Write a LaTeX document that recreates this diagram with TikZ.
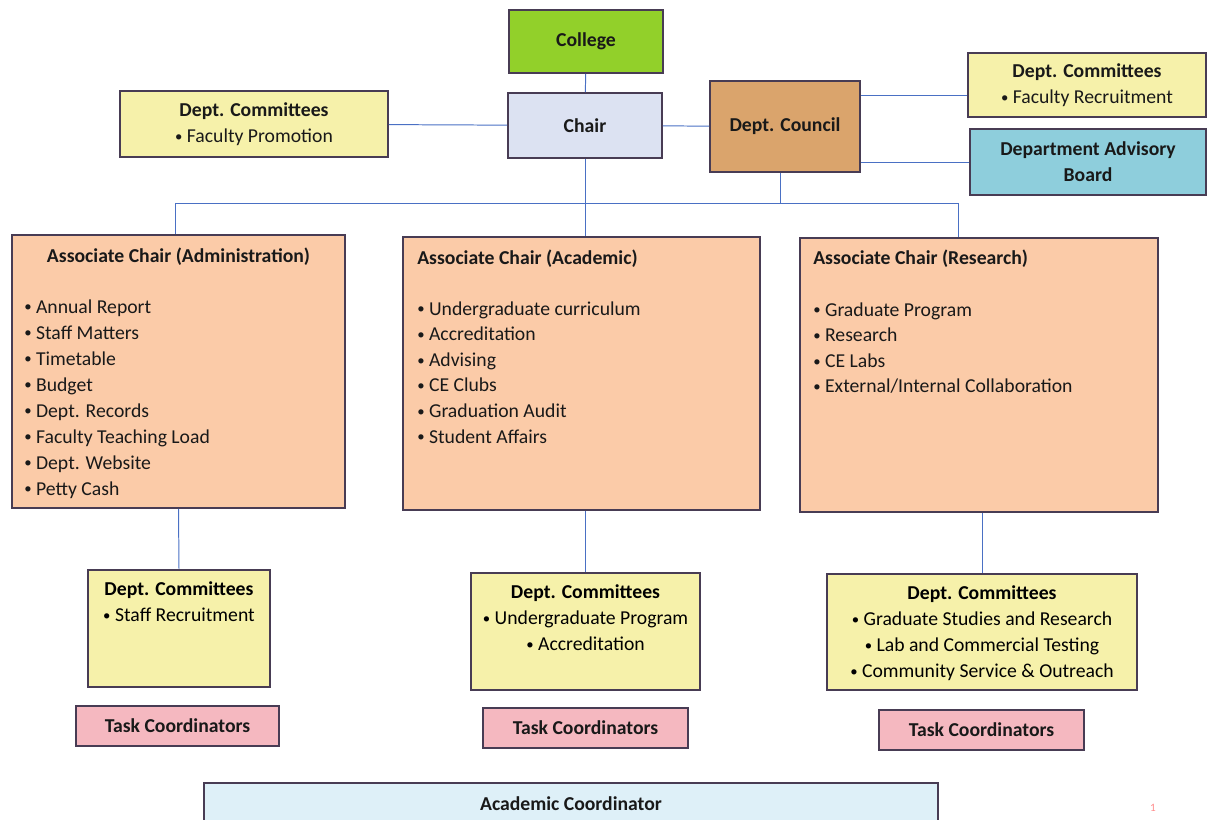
\documentclass[tikz,border=0pt]{standalone}
\usepackage{fontspec}
\setmainfont{Carlito}
\usetikzlibrary{positioning}

\newlength\pxu
\setlength\pxu{0.025cm}
\newcommand\orgfont{\fontsize{14}{18.5}\selectfont}
\newcommand\bul{\raisebox{0.12ex}{\scalebox{0.75}{•}}}

\definecolor{boxline}{RGB}{72,60,84}
\definecolor{linkblue}{RGB}{74,112,196}
\definecolor{collegegreen}{RGB}{146,208,42}
\definecolor{chairblue}{RGB}{220,226,242}
\definecolor{councilbrown}{RGB}{218,164,108}
\definecolor{committeeyellow}{RGB}{246,241,170}
\definecolor{boardblue}{RGB}{142,206,220}
\definecolor{assocpeach}{RGB}{251,203,168}
\definecolor{taskpink}{RGB}{245,184,192}
\definecolor{acadblue}{RGB}{222,240,248}

\tikzset{
  box/.style={draw=boxline, line width=1.2pt, inner sep=0pt, align=center,
    text=black!90, font=\orgfont\bfseries},
  wh/.style 2 args={minimum width=#1\pxu, minimum height=#2\pxu},
  link/.style={draw=linkblue, line width=0.7pt},
  item/.style={inner sep=0pt, anchor=base west, text=black!90, font=\orgfont},
  title/.style={inner sep=0pt, anchor=base west, text=black!90, font=\orgfont\bfseries},
}

\begin{document}
\begin{tikzpicture}[x=\pxu, y=-\pxu]
\useasboundingbox (0,0) rectangle (1208,820);

% top level
\node[box, wh={154}{63}, fill=collegegreen] (college) at (586,41.5) {College};
\node[box, wh={154}{65}, fill=chairblue] (chair) at (585,125.5) {Chair};
\node[box, wh={268}{66}, fill=committeeyellow] (promo) at (254,124)
  {Dept. Committees\\ \textmd{\bul{} Faculty Promotion}};
\node[box, wh={150}{91}, fill=councilbrown] (council) at (785,126.5) {Dept. Council};
\node[box, wh={238}{64}, fill=committeeyellow] (recruit) at (1087,85)
  {Dept. Committees\\ \textmd{\bul{} Faculty Recruitment}};
\node[box, wh={236}{66}, fill=boardblue] (board) at (1088,162)
  {Department Advisory\\ Board};

% associate chairs
\node[box, wh={333}{273}, fill=assocpeach] (admin) at (178.5,371.5) {};
\node[box, wh={357}{273}, fill=assocpeach] (acad) at (581.5,373.5) {};
\node[box, wh={358}{274}, fill=assocpeach] (res) at (979,375) {};

\node[title, anchor=base] (adminT) at (178.5,262) {Associate Chair (Administration)};
\node[title] (acadT) at (417,264) {Associate Chair (Academic)};
\node[title] (resT) at (813,265) {Associate Chair (Research)};

\foreach \t [count=\i] in {Annual Report, Staff Matters, Timetable, Budget,
    Dept. Records, Faculty Teaching Load, Dept. Website, Petty Cash}
  \node[item] (admin-\i) at (24,{313+26*(\i-1)}) {\bul{} \t};
\foreach \t [count=\i] in {Undergraduate curriculum, Accreditation, Advising,
    CE Clubs, Graduation Audit, Student Affairs}
  \node[item] (acad-\i) at (417,{315+25.6*(\i-1)}) {\bul{} \t};
\foreach \t [count=\i] in {Graduate Program, Research, CE Labs,
    {External/Internal Collaboration}}
  \node[item] (res-\i) at (813,{316+25.6*(\i-1)}) {\bul{} \t};

% committees under the associate chairs
\node[box, wh={182}{117}, fill=committeeyellow] (adminC) at (179,628.5) {};
\node[box, wh={229}{117}, fill=committeeyellow] (acadC) at (585.5,631.5) {};
\node[box, wh={310}{116}, fill=committeeyellow] (resC) at (982,632) {};

\node[below=9pt of adminC.north, align=center, inner sep=0pt, font=\orgfont] (adminCT)
  {\textbf{Dept. Committees}\\ \bul{} Staff Recruitment};
\node[below=9pt of acadC.north, align=center, inner sep=0pt, font=\orgfont] (acadCT)
  {\textbf{Dept. Committees}\\ \bul{} Undergraduate Program\\ \bul{} Accreditation};
\node[below=9pt of resC.north, align=center, inner sep=0pt, font=\orgfont] (resCT)
  {\textbf{Dept. Committees}\\ \bul{} Graduate Studies and Research\\
   \bul{} Lab and Commercial Testing\\ \bul{} Community Service \& Outreach};

% task coordinators
\node[box, wh={203}{40}, fill=taskpink] (adminTC) at (177.5,726) {Task Coordinators};
\node[box, wh={205}{40}, fill=taskpink] (acadTC) at (585.5,728) {Task Coordinators};
\node[box, wh={205}{40}, fill=taskpink] (resTC) at (981.5,730) {Task Coordinators};

\node[box, wh={734}{42}, fill=acadblue] (coord) at (571,804) {Academic Coordinator};
\node[text=red!45, font=\footnotesize] (page) at (1153,808) {1};

% connectors
\coordinate (busL) at (175,203);
\coordinate (busR) at (958,203);
\coordinate (jr) at ([yshift=-10.7pt]council.north east);
\draw[link] (college) -- (chair);
\draw[link] (chair) -- (promo);
\draw[link] (chair) -- (council);
\draw[link] (jr) -- (jr -| recruit.west);
\draw[link] (council.east |- board.west) -- (board.west);
\draw[link] (busL) -- (busR);
\draw[link] (busL) -- (busL |- admin.north);
\draw[link] (busR) -- (busR |- res.north);
\draw[link] ([xshift=-3pt]council.south) -- ([xshift=-3pt]council.south |- busR);
\draw[link] (chair.south) -- (chair.south |- acad.north);
\draw[link] (admin.south) -- (adminC.north);
\draw[link] (acadC.north |- acad.south) -- (acadC.north);
\draw[link] (resC.north |- res.south) -- (resC.north);
\end{tikzpicture}
\end{document}
